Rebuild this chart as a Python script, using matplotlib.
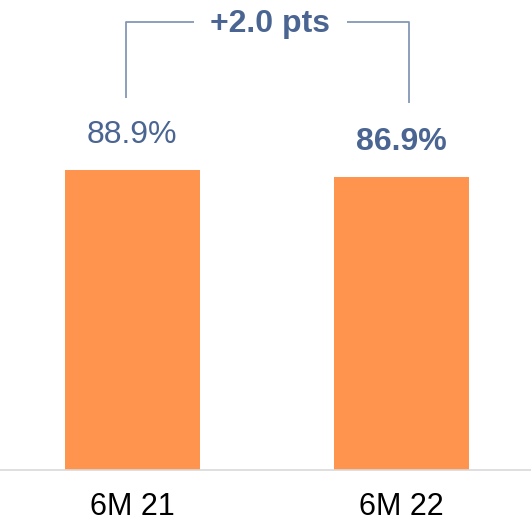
import matplotlib
matplotlib.use("Agg")
from matplotlib import pyplot as plt

periods = ["6M 21", "6M 22"]
values = [88.9, 86.9]
value_labels = ["88.9%", "86.9%"]
label_bold = [False, True]
delta_label = "+2.0 pts"

plt.rcParams['font.family'] = ['Liberation Sans', 'DejaVu Sans']

bar_color = '#FF944F'
text_color = '#4A6592'
bracket_color = '#8397B6'

fig = plt.figure(figsize=(5.31, 5.22), dpi=100)
ax = fig.add_axes([0, 52 / 522, 1, 470 / 522])

x = list(range(len(periods)))
ax.bar(x, values, width=0.5, color=bar_color)

ax.set_xlim(-0.492, 1.482)
ax.set_ylim(0, 139.3)

for xi, v, lab, bold in zip(x, values, value_labels, label_bold):
    ax.text(xi, v + 10.4, lab, ha='center', va='center', fontsize=23,
            fontweight='bold' if bold else 'normal', color=text_color)

# bracket showing the change between the two periods
top = 132.7
ax.plot([-0.024, -0.024, 0.229], [values[0] + 21.3, top, top],
        color=bracket_color, lw=1.3, solid_capstyle='butt')
ax.plot([0.797, 1.028, 1.028], [top, top, values[1] + 21.8],
        color=bracket_color, lw=1.3, solid_capstyle='butt')
ax.text(0.511, top - 0.6, delta_label, ha='center', va='center',
        fontsize=23, fontweight='bold', color=text_color)

ax.set_xticks(x)
ax.set_xticklabels(periods, fontsize=22, color='black')
ax.tick_params(axis='x', length=0, pad=16)
ax.set_yticks([])
for side in ['top', 'left', 'right']:
    ax.spines[side].set_visible(False)
ax.spines['bottom'].set_color('#D9D9D9')
ax.spines['bottom'].set_linewidth(1.2)

fig.savefig('out.png', dpi=100)
plt.close(fig)
